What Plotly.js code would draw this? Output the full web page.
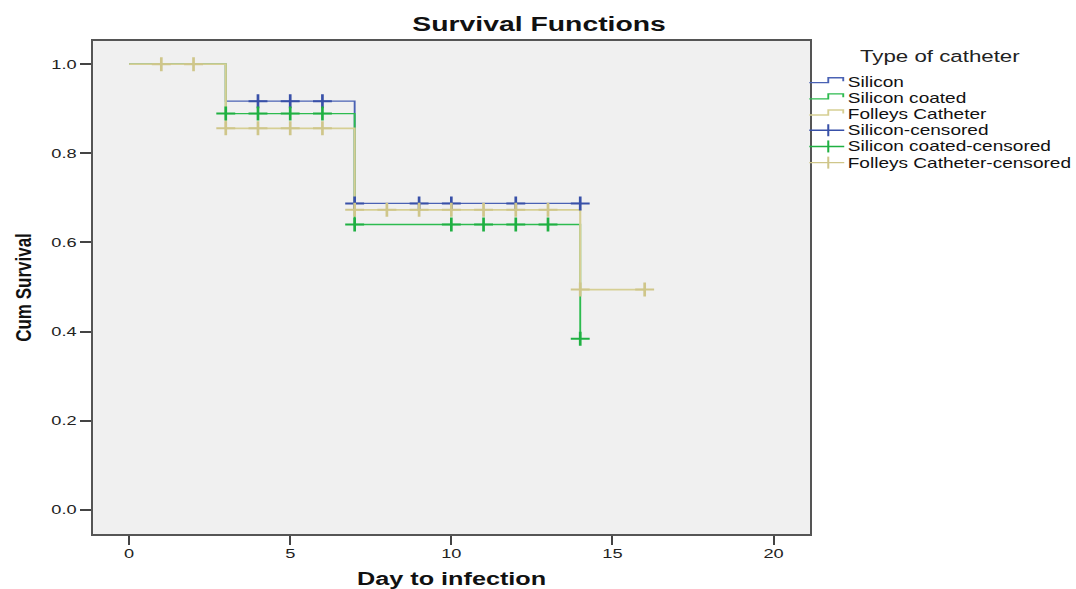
<!DOCTYPE html>
<html>
<head>
<meta charset="utf-8">
<script src="https://cdn.plot.ly/plotly-3.0.1.min.js"></script>
<style>
html,body{margin:0;padding:0;background:#fff;}
#wrap{width:1076px;height:589px;overflow:hidden;}
#chart{width:797px;height:589px;transform:scaleX(1.35);transform-origin:0 0;}
</style>
</head>
<body>
<div id="wrap"><div id="chart"></div></div>
<script>
// Series names
const seriesNames = ['Silicon', 'Silicon coated', 'Folleys Catheter'];
const censoredNames = seriesNames.map(n => n + '-censored');

// Step survival curves (time, cumulative survival)
const siliconX = [0, 3, 3, 7, 7, 14];
const siliconY = [1.0, 1.0, 0.917, 0.917, 0.6875, 0.6875];
const coatedX = [0, 3, 3, 7, 7, 14, 14];
const coatedY = [1.0, 1.0, 0.889, 0.889, 0.640, 0.640, 0.384];
const folleysX = [0, 3, 3, 7, 7, 14, 14, 16];
const folleysY = [1.0, 1.0, 0.856, 0.856, 0.673, 0.673, 0.494, 0.494];

// Censored observations
const siliconCensX = [4, 5, 6, 7, 9, 10, 12, 14];
const siliconCensY = [0.917, 0.917, 0.917, 0.6875, 0.6875, 0.6875, 0.6875, 0.6875];
const coatedCensX = [3, 4, 5, 6, 7, 10, 11, 12, 13, 14];
const coatedCensY = [0.889, 0.889, 0.889, 0.889, 0.640, 0.640, 0.640, 0.640, 0.640, 0.384];
const folleysCensX = [1, 2, 3, 4, 5, 6, 7, 8, 9, 10, 11, 12, 13, 14, 16];
const folleysCensY = [1.0, 1.0, 0.856, 0.856, 0.856, 0.856, 0.673, 0.673, 0.673, 0.673, 0.673, 0.673, 0.673, 0.494, 0.494];

const xTicks = [0, 5, 10, 15, 20];
const yTicks = [0.0, 0.2, 0.4, 0.6, 0.8, 1.0];

const lineColors = ['#4a62b4', '#2dbb4f', '#d6cf94'];
const censColors = ['#3850a8', '#1fb042', '#cfc68a'];

// geometry (screen px -> paper coords); the page is stretched horizontally like the original
const S = 1.35, W = 1076 / S, L = 92.7 / S, R = 810.7 / S, T = 41, B = 534.3;
const pw = R - L, ph = B - T;
const px2x = sx => (sx / S - L) / pw;
const py2y = sy => (B - sy) / ph;

const lineData = [[siliconX, siliconY], [coatedX, coatedY], [folleysX, folleysY]];
const censData = [[siliconCensX, siliconCensY], [coatedCensX, coatedCensY], [folleysCensX, folleysCensY]];

const traces = [];
lineData.forEach((d, i) => traces.push({
  x: d[0], y: d[1], mode: 'lines', name: seriesNames[i], showlegend: false,
  line: {color: lineColors[i], width: i === 2 ? 1.6 : 1.4}
}));
censData.forEach((d, i) => traces.push({
  x: d[0], y: d[1], mode: 'markers', name: censoredNames[i], showlegend: false,
  marker: {symbol: 'cross-thin', size: 10, line: {color: censColors[i], width: 2}}
}));

// manual legend (tight row spacing as in the original)
const rowY = [81.7, 97.9, 114.1, 130.3, 146.5, 162.7];
const shapes = [], annotations = [];
const iconL = 810, iconM = 829, iconR = 845;
rowY.forEach((c, k) => {
  const isCens = k >= 3;
  const idx = k % 3;
  const col = isCens ? censColors[idx] : lineColors[idx];
  if (!isCens) {
    shapes.push({type: 'path', xref: 'paper', yref: 'paper',
      path: `M ${px2x(iconL)} ${py2y(c + 1)} L ${px2x(iconM)} ${py2y(c + 1)} L ${px2x(iconM)} ${py2y(c - 4)} L ${px2x(iconR - 1)} ${py2y(c - 4)} L ${px2x(iconR - 1)} ${py2y(c - 0.5)}`,
      line: {color: col, width: 1.4}});
  } else {
    shapes.push({type: 'line', xref: 'paper', yref: 'paper', x0: px2x(iconL), x1: px2x(iconR), y0: py2y(c), y1: py2y(c),
      line: {color: col, width: 1.4}});
    shapes.push({type: 'line', xref: 'paper', yref: 'paper', x0: px2x(iconM), x1: px2x(iconM), y0: py2y(c - 6), y1: py2y(c + 6),
      line: {color: col, width: 1.5}});
  }
  annotations.push({xref: 'paper', yref: 'paper', x: px2x(847.5), y: py2y(c), xanchor: 'left', yanchor: 'middle',
    text: isCens ? censoredNames[idx] : seriesNames[idx], showarrow: false, borderpad: 0,
    font: {size: 14.1, color: '#111', family: 'Liberation Sans, Arial, sans-serif'}});
});
annotations.push({xref: 'paper', yref: 'paper', x: px2x(860), y: py2y(56), xanchor: 'left', yanchor: 'middle',
  text: 'Type of catheter', showarrow: false, borderpad: 0,
  font: {size: 16.5, color: '#222', family: 'Liberation Sans, Arial, sans-serif'}});

const layout = {
  width: W, height: 589,
  margin: {l: L, r: W - R, t: T, b: 589 - B},
  paper_bgcolor: '#ffffff',
  plot_bgcolor: '#f0f0f0',
  font: {family: 'Liberation Sans, Arial, sans-serif', color: '#222', size: 13.5},
  showlegend: false,
  title: {text: '<b>Survival Functions</b>', xref: 'container', x: 0.501, xanchor: 'center',
          yref: 'container', y: 1 - 24 / 589, yanchor: 'middle',
          font: {size: 21, color: '#111', family: 'Liberation Sans, Arial, sans-serif'}},
  xaxis: {
    range: [-1.115, 21.13], tickvals: xTicks, ticktext: xTicks.map(String),
    showgrid: false, zeroline: false, showline: true, mirror: true, linecolor: '#555', linewidth: 2,
    ticks: 'outside', ticklen: 9, tickwidth: 1.5, tickcolor: '#444',
    ticklabelstandoff: -3,
    tickfont: {size: 13.5, color: '#222'},
    title: {text: '<b>Day to infection</b>', standoff: 13, font: {size: 18.7, color: '#111'}}
  },
  yaxis: {
    range: [-0.0545, 1.052], tickvals: yTicks, ticktext: yTicks.map(v => v.toFixed(1)),
    showgrid: false, zeroline: false, showline: true, mirror: true, linecolor: '#555', linewidth: 1.5,
    ticks: 'outside', ticklen: 8, tickwidth: 2, tickcolor: '#444',
    tickfont: {size: 13.5, color: '#222'},
    title: {text: '<b>Cum Survival</b>', standoff: 10,
            font: {size: 17, color: '#111', family: 'Liberation Sans, Arial, sans-serif'}}
  },
  shapes: shapes,
  annotations: annotations
};

Plotly.newPlot('chart', traces, layout, {displayModeBar: false, staticPlot: true});
</script>
</body>
</html>
